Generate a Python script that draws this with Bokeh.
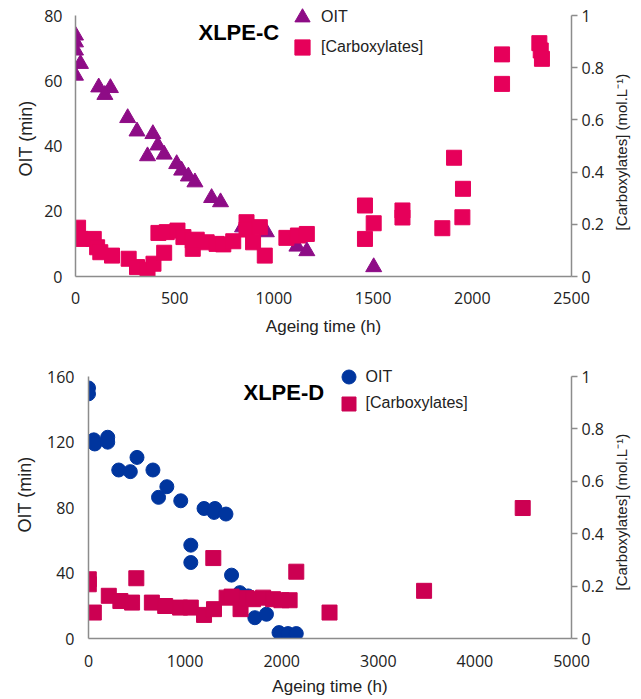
import math
from bokeh.plotting import figure
from bokeh.models import (Range1d, LinearAxis, Legend, LegendItem, Label,
                          FixedTicker, ColumnDataSource)
from bokeh.embed import file_html
from bokeh.resources import INLINE

# ---------------- data: XLPE-C ----------------
c_oit_time = [0, 0, 0, 25, 0, 117, 176, 148, 263, 310, 390, 415, 363, 447,
              510, 535, 569, 602, 686, 731, 842, 962, 1116, 1166, 1503]
c_oit_val = [73.9, 71.8, 69.3, 65.2, 61.6, 58.0, 57.8, 55.7, 48.6, 44.5,
             43.7, 40.2, 36.9, 37.4, 34.5, 32.5, 30.7, 28.9, 24.1, 22.8,
             15.1, 13.6, 9.2, 7.8, 2.9]
c_carb_time = [13, 25, 92, 109, 125, 184, 268, 310, 363, 393, 447, 418, 460,
               514, 544, 591, 591, 611, 661, 711, 745, 795, 862, 862, 929,
               895, 954, 1063, 1121, 1166, 1459, 1459, 1503, 1648, 1648,
               1849, 1908, 1953, 1950, 2150, 2150, 2338, 2345, 2351]
c_carb_val = [0.187, 0.144, 0.144, 0.112, 0.093, 0.080, 0.068, 0.036, 0.026,
              0.049, 0.091, 0.167, 0.170, 0.176, 0.151, 0.138, 0.106, 0.141,
              0.131, 0.125, 0.123, 0.135, 0.208, 0.180, 0.189, 0.131, 0.080,
              0.148, 0.157, 0.163, 0.272, 0.144, 0.204, 0.253, 0.226, 0.185,
              0.455, 0.336, 0.227, 0.851, 0.738, 0.894, 0.866, 0.834]

# ---------------- data: XLPE-D ----------------
d_oit_time = [0, 0, 55, 65, 199, 199, 313, 433, 502, 667, 811, 725, 955,
              1196, 1309, 1300, 1423, 1059, 1059, 1481, 1567, 1653, 1722,
              1842, 1972, 2065, 2151]
d_oit_val = [153.0, 149.4, 121.3, 118.8, 122.9, 119.9, 102.9, 101.9, 110.6,
             102.9, 92.7, 86.2, 84.1, 79.4, 79.4, 77.0, 76.0, 57.0, 46.4,
             38.7, 28.0, 26.0, 12.7, 14.8, 3.6, 3.0, 3.0]
d_carb_time = [3, 3, 55, 210, 330, 451, 495, 656, 794, 948, 1059, 1196, 1299,
               1292, 1430, 1481, 1574, 1636, 1704, 1808, 1911, 1997, 2082,
               2151, 2495, 3474, 4495]
d_carb_val = [0.226, 0.207, 0.099, 0.163, 0.143, 0.137, 0.230, 0.137, 0.124,
              0.118, 0.118, 0.090, 0.112, 0.307, 0.156, 0.160, 0.112, 0.154,
              0.150, 0.156, 0.150, 0.146, 0.146, 0.255, 0.099, 0.182, 0.498]

# ---------------- ticks / labels ----------------
c_x_ticks = [0, 500, 1000, 1500, 2000, 2500]
c_y_ticks = [0, 20, 40, 60, 80]
d_x_ticks = [0, 1000, 2000, 3000, 4000, 5000]
d_y_ticks = [0, 40, 80, 120, 160]
carb_ticks = [0, 0.2, 0.4, 0.6, 0.8, 1]
carb_tick_labels = ["0", "0.2", "0.4", "0.6", "0.8", "1"]

x_label = "Ageing time (h)"
y_label = "OIT (min)"
y2_label = "[Carboxylates] (mol.L\u207B\u00B9)"
series_names = ["OIT", "[Carboxylates]"]

AX = "#8c8c8c"
TXT = "#222222"


def style_axis(ax, tick_out=0, label_standoff=10, axis_label_standoff=8,
               label_size="17px"):
    ax.axis_line_color = AX
    ax.axis_line_width = 1.5
    ax.major_tick_line_color = AX
    ax.major_tick_line_width = 1.5
    ax.major_tick_out = tick_out
    ax.major_tick_in = 0
    ax.minor_tick_line_color = None
    ax.major_label_text_font = "Open Sans"
    ax.major_label_text_font_size = "16px"
    ax.major_label_text_color = TXT
    ax.major_label_standoff = label_standoff
    ax.axis_label_text_font = "Liberation Sans"
    ax.axis_label_text_font_size = label_size
    ax.axis_label_text_font_style = "normal"
    ax.axis_label_text_color = TXT
    ax.axis_label_standoff = axis_label_standoff


def make_plot(title, xmax, ymax, x_ticks, y_ticks, oit_t, oit_v, carb_t,
              carb_v, oit_marker, oit_color, oit_size, carb_color, width,
              height, borders, axis_top_px, legend_locs, glyph_box,
              title_pos, bottom_std, left_std, y2_start_px, y2_standoff):
    bl, br, bt, bb = borders
    frame_h = height - bt - bb
    axis_h = frame_h - axis_top_px
    # the frame reaches the top of the canvas (so the legend is not clipped);
    # the axes themselves stop at ymax, axis_top_px below the frame top
    stretch = frame_h / axis_h
    p = figure(width=width, height=height, output_backend="svg",
               toolbar_location=None, x_range=Range1d(0, xmax),
               y_range=Range1d(0, ymax * stretch), min_border_left=bl,
               min_border_right=br, min_border_top=bt, min_border_bottom=bb,
               x_axis_label=x_label, y_axis_label=y_label)
    p.extra_y_ranges = {"carb": Range1d(0, 1 * stretch)}
    p.grid.visible = False
    p.outline_line_color = None
    p.background_fill_color = "white"
    p.border_fill_color = "white"

    p.xaxis.ticker = FixedTicker(ticks=x_ticks)
    p.yaxis.ticker = FixedTicker(ticks=y_ticks)
    p.yaxis.bounds = (0, ymax)
    style_axis(p.xaxis[0], 0, bottom_std[0], bottom_std[1])
    style_axis(p.yaxis[0], 0, left_std[0], left_std[1], "18px")

    r_ax = LinearAxis(y_range_name="carb", ticker=FixedTicker(ticks=carb_ticks),
                      bounds=(0, 1))
    r_ax.major_label_overrides = {t: l for t, l in zip(carb_ticks, carb_tick_labels)}
    style_axis(r_ax, 6, 4, 5, "15px")
    p.add_layout(r_ax, "right")

    # right-hand title, reading bottom-to-top, starting y2_start_px above the
    # x axis (drawn as the single label of a bare outer axis)
    start = round(y2_start_px / axis_h, 4)
    t_ax = LinearAxis(y_range_name="carb", ticker=FixedTicker(ticks=[start]))
    t_ax.major_label_overrides = {start: y2_label}
    t_ax.major_label_orientation = math.pi / 2
    t_ax.axis_line_color = None
    t_ax.major_tick_line_color = None
    t_ax.minor_tick_line_color = None
    t_ax.major_tick_out = 0
    t_ax.major_tick_in = 0
    t_ax.major_label_standoff = y2_standoff
    t_ax.major_label_text_font = "Liberation Sans"
    t_ax.major_label_text_font_size = "15px"
    t_ax.major_label_text_color = TXT
    p.add_layout(t_ax, "right")

    src_o = ColumnDataSource(dict(x=oit_t, y=oit_v))
    src_c = ColumnDataSource(dict(x=carb_t, y=carb_v))
    r1 = p.scatter("x", "y", source=src_o, marker=oit_marker, size=oit_size,
                   fill_color=oit_color, line_color=oit_color)
    r2 = p.scatter("x", "y", source=src_c, y_range_name="carb", marker="square",
                   size=15, fill_color=carb_color, line_color=carb_color)

    for name, rend, loc in zip(series_names, [r1, r2], legend_locs):
        leg = Legend(items=[LegendItem(label=name, renderers=[rend])],
                     location=loc, glyph_width=glyph_box,
                     glyph_height=glyph_box, spacing=0, label_standoff=0,
                     padding=0, margin=0, background_fill_alpha=0,
                     border_line_color=None,
                     label_text_font="Liberation Sans",
                     label_text_font_size="16px", label_text_color=TXT,
                     label_height=16)
        p.add_layout(leg)

    p.add_layout(Label(x=title_pos[0], y=title_pos[1], x_units="screen",
                       y_units="screen", text=title, text_align="center",
                       text_baseline="middle", text_font="Liberation Sans",
                       text_font_style="bold", text_font_size="22px",
                       text_color="#000000"))
    return p


p1 = make_plot("XLPE-C", 2500, 80, c_x_ticks, c_y_ticks, c_oit_time, c_oit_val,
               c_carb_time, c_carb_val, "triangle", "#8E0C86", 16, "#E6005A",
               641, 350, (75, 68, 0, 74), 15,
               [(208, 240.3), (208, 210.3)], 38,
               (163.3, 244), (15, 10), (13, 5), 46, 14)
p2 = make_plot("XLPE-D", 5000, 160, d_x_ticks, d_y_ticks, d_oit_time, d_oit_val,
               d_carb_time, d_carb_val, "circle", "#00359E", 14, "#CC0052",
               641, 349, (88, 68, 0, 61), 26,
               [(242.5, 243.8), (242.5, 217.2)], 35,
               (195.3, 246.3), (16, 7), (14, 9), 48, 14)

open("out.html", "w").write(file_html([p1, p2], INLINE))
